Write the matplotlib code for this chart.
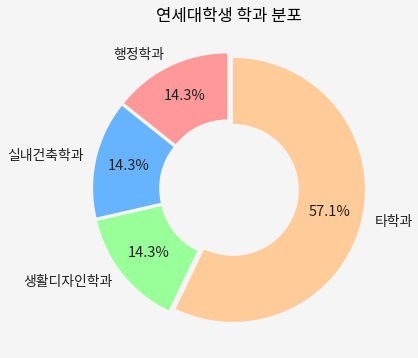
import matplotlib
matplotlib.use("Agg")
import matplotlib.pyplot as plt

plt.rcParams['font.family'] = ['Noto Sans CJK KR', 'DejaVu Sans']

labels = ['행정학과', '실내건축학과', '생활디자인학과', '타학과']
counts = [1, 1, 1, 4]
colors = ['#ff9999', '#66b3ff', '#99ff99', '#ffcc99']
explode = [0.03, 0.03, 0.03, 0.03]

W, H = 418, 358
cx, cy, r = 229, 358 - 189, 132

fig = plt.figure(figsize=(W / 100, H / 100), dpi=100, facecolor='#f5f5f5')
ax = fig.add_axes([(cx - r) / W, (cy - r) / H, 2 * r / W, 2 * r / H])
ax.set_facecolor('#f5f5f5')

wedges, texts, autotexts = ax.pie(
    counts, labels=labels, colors=colors, autopct='%.1f%%',
    startangle=90, pctdistance=0.75, labeldistance=1.1, explode=explode,
    wedgeprops=dict(width=0.5),
    textprops=dict(fontsize=10, color='#222222'))
for t in autotexts:
    t.set_fontsize(10.5)
ax.set_xlim(-1, 1)
ax.set_ylim(-1, 1)
ax.set_aspect('equal')

fig.text(cx / W, 1 - 17 / H, '연세대학생 학과 분포', fontsize=12,
         ha='center', va='center')

fig.savefig('out.png', dpi=100, facecolor=fig.get_facecolor())
